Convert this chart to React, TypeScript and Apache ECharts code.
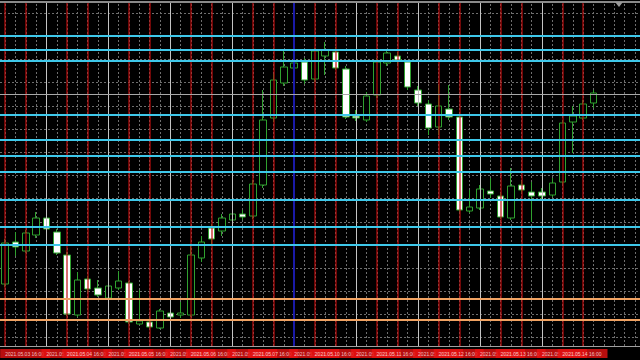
import React, { useEffect, useRef } from 'react';
import * as echarts from 'echarts';

// H4 bar times (last four slots are empty chart-shift space)
const categories: string[] = [
  '2021.05.03 16:00', '2021.05.03 20:00',
  '2021.05.04 00:00', '2021.05.04 04:00', '2021.05.04 08:00', '2021.05.04 12:00', '2021.05.04 16:00', '2021.05.04 20:00',
  '2021.05.05 00:00', '2021.05.05 04:00', '2021.05.05 08:00', '2021.05.05 12:00', '2021.05.05 16:00', '2021.05.05 20:00',
  '2021.05.06 00:00', '2021.05.06 04:00', '2021.05.06 08:00', '2021.05.06 12:00', '2021.05.06 16:00', '2021.05.06 20:00',
  '2021.05.07 00:00', '2021.05.07 04:00', '2021.05.07 08:00', '2021.05.07 12:00', '2021.05.07 16:00', '2021.05.07 20:00',
  '2021.05.10 00:00', '2021.05.10 04:00', '2021.05.10 08:00', '2021.05.10 12:00', '2021.05.10 16:00', '2021.05.10 20:00',
  '2021.05.11 00:00', '2021.05.11 04:00', '2021.05.11 08:00', '2021.05.11 12:00', '2021.05.11 16:00', '2021.05.11 20:00',
  '2021.05.12 00:00', '2021.05.12 04:00', '2021.05.12 08:00', '2021.05.12 12:00', '2021.05.12 16:00', '2021.05.12 20:00',
  '2021.05.13 00:00', '2021.05.13 04:00', '2021.05.13 08:00', '2021.05.13 12:00', '2021.05.13 16:00', '2021.05.13 20:00',
  '2021.05.14 00:00', '2021.05.14 04:00', '2021.05.14 08:00', '2021.05.14 12:00', '2021.05.14 16:00', '2021.05.14 20:00',
  '2021.05.17 00:00', '2021.05.17 04:00', '2021.05.17 08:00', '2021.05.17 12:00', '2021.05.17 16:00', '2021.05.17 20:00',
];

// [open, close, low, high]
const ohlc: number[][] = [
  [1.20156, 1.20443, 1.20135, 1.20471],
  [1.20450, 1.20415, 1.20352, 1.20520],
  [1.20387, 1.20513, 1.20373, 1.20534],
  [1.20499, 1.20618, 1.20478, 1.20660],
  [1.20618, 1.20541, 1.20527, 1.20646],
  [1.20520, 1.20373, 1.20359, 1.20541],
  [1.20359, 1.19946, 1.19932, 1.20380],
  [1.19939, 1.20184, 1.19925, 1.20240],
  [1.20191, 1.20121, 1.20100, 1.20212],
  [1.20128, 1.20079, 1.20065, 1.20184],
  [1.20058, 1.20142, 1.20044, 1.20156],
  [1.20128, 1.20177, 1.20114, 1.20247],
  [1.20163, 1.19890, 1.19876, 1.20177],
  [1.19876, 1.19897, 1.19869, 1.20114],
  [1.19890, 1.19855, 1.19848, 1.19918],
  [1.19848, 1.19967, 1.19841, 1.19981],
  [1.19953, 1.19925, 1.19911, 1.19981],
  [1.19939, 1.19953, 1.19918, 1.20030],
  [1.19939, 1.20359, 1.19925, 1.20429],
  [1.20338, 1.20450, 1.20310, 1.20492],
  [1.20548, 1.20471, 1.20429, 1.20576],
  [1.20527, 1.20618, 1.20492, 1.20646],
  [1.20604, 1.20646, 1.20576, 1.20674],
  [1.20646, 1.20625, 1.20604, 1.20674],
  [1.20632, 1.20856, 1.20611, 1.20884],
  [1.20849, 1.21304, 1.20828, 1.21514],
  [1.21318, 1.21584, 1.21290, 1.21626],
  [1.21563, 1.21675, 1.21542, 1.21794],
  [1.21668, 1.21703, 1.21640, 1.21738],
  [1.21710, 1.21584, 1.21556, 1.21738],
  [1.21591, 1.21787, 1.21570, 1.21808],
  [1.21752, 1.21794, 1.21619, 1.21850],
  [1.21780, 1.21668, 1.21654, 1.21815],
  [1.21661, 1.21325, 1.21311, 1.21682],
  [1.21332, 1.21318, 1.21297, 1.21374],
  [1.21304, 1.21472, 1.21290, 1.21500],
  [1.21479, 1.21710, 1.21458, 1.21738],
  [1.21703, 1.21773, 1.21682, 1.21794],
  [1.21752, 1.21724, 1.21696, 1.21780],
  [1.21710, 1.21535, 1.21514, 1.21724],
  [1.21514, 1.21423, 1.21402, 1.21542],
  [1.21416, 1.21248, 1.21199, 1.21444],
  [1.21255, 1.21402, 1.21199, 1.21549],
  [1.21381, 1.21325, 1.21304, 1.21549],
  [1.21325, 1.20674, 1.20660, 1.21346],
  [1.20667, 1.20695, 1.20653, 1.20814],
  [1.20688, 1.20821, 1.20674, 1.20849],
  [1.20807, 1.20786, 1.20758, 1.20898],
  [1.20772, 1.20625, 1.20611, 1.20793],
  [1.20618, 1.20842, 1.20604, 1.20968],
  [1.20849, 1.20814, 1.20793, 1.20877],
  [1.20800, 1.20772, 1.20590, 1.20870],
  [1.20800, 1.20772, 1.20751, 1.20828],
  [1.20779, 1.20863, 1.20765, 1.20898],
  [1.20870, 1.21283, 1.20856, 1.21304],
  [1.21290, 1.21332, 1.21073, 1.21402],
  [1.21318, 1.21416, 1.21304, 1.21444],
  [1.21423, 1.21493, 1.21388, 1.21514],
];

const timeLabels: string[] = [
  '2021.05.03 16:00', '2021.05.04 08:00', '2021.05.04 16:00', '2021.05.05 08:00', '2021.05.05 16:00',
  '2021.05.06 08:00', '2021.05.06 16:00', '2021.05.07 08:00', '2021.05.07 16:00', '2021.05.10 08:00',
  '2021.05.10 16:00', '2021.05.11 08:00', '2021.05.11 16:00', '2021.05.12 08:00', '2021.05.12 16:00',
  '2021.05.13 08:00', '2021.05.13 16:00', '2021.05.14 08:00', '2021.05.14 16:00',
];

const redLineTimes: string[] = [
  '2021.05.03 16:00', '2021.05.04 00:00', '2021.05.04 16:00', '2021.05.05 00:00', '2021.05.05 16:00',
  '2021.05.06 00:00', '2021.05.06 16:00', '2021.05.07 00:00', '2021.05.07 16:00', '2021.05.10 00:00',
  '2021.05.10 16:00', '2021.05.11 00:00', '2021.05.11 16:00', '2021.05.12 00:00', '2021.05.12 16:00',
  '2021.05.13 00:00', '2021.05.13 16:00', '2021.05.14 00:00', '2021.05.14 16:00', '2021.05.17 00:00',
];
const silverLineTimes: string[] = [
  '2021.05.04 08:00', '2021.05.05 08:00', '2021.05.06 08:00', '2021.05.07 08:00',
  '2021.05.11 08:00', '2021.05.12 08:00', '2021.05.13 08:00', '2021.05.14 08:00',
];
const blueLineTimes: string[] = ['2021.05.10 08:00'];

const cyanLevels: number[] = [1.21892, 1.21794, 1.21717, 1.21339, 1.21164, 1.21052, 1.20940, 1.20744, 1.20555, 1.20429];
const orangeLevels: number[] = [1.20051, 1.19904];
const silverLevels: number[] = [1.21486];
const gridLevels: number[] = [
  1.22053, 1.21891, 1.21728, 1.21566, 1.21403, 1.21241, 1.21079, 1.20916,
  1.20754, 1.20591, 1.20429, 1.20267, 1.20104, 1.19942, 1.19780,
];

const Y_MIN = 1.19722;
const Y_MAX = 1.2213;

const DOT = { color: '#6e6e6e', width: 1, type: [2, 2] as number[] };

const buildOption = () => {
  const gridMarks: any[] = [
    ...gridLevels.map((v) => ({ yAxis: v, lineStyle: DOT })),
    ...categories.map((c) => ({ xAxis: c, lineStyle: DOT })),
  ];
  const colourMarks: any[] = [
    ...redLineTimes.map((c) => ({ xAxis: c, lineStyle: { color: 'rgba(190,14,14,0.6)', width: 2, type: 'solid' } })),
    ...silverLineTimes.map((c) => ({ xAxis: c, lineStyle: { color: '#c4c4c4', width: 1, type: 'solid' } })),
    ...blueLineTimes.map((c) => ({ xAxis: c, lineStyle: { color: '#1a1aa8', width: 2, type: 'solid' } })),
    ...silverLevels.map((v) => ({ yAxis: v, lineStyle: { color: '#a8a8a8', width: 1, type: 'solid' } })),
    { yAxis: Y_MAX, lineStyle: { color: '#8a8a8a', width: 2, type: 'solid' } },
    ...cyanLevels.map((v) => ({ yAxis: v, lineStyle: { color: '#3ec8ea', width: 2, type: 'solid' } })),
    ...orangeLevels.map((v) => ({ yAxis: v, lineStyle: { color: '#f0a262', width: 2, type: 'solid' } })),
  ];
  const markerLine = (z: number, data: any[]) => ({
    z,
    silent: true,
    animation: false,
    precision: 6,
    symbol: ['none', 'none'],
    label: { show: false },
    emphasis: { disabled: true },
    data,
  });
  return {
    animation: false,
    backgroundColor: '#000000',
    grid: { left: 0, right: -2, top: 2, bottom: 14, containLabel: false },
    xAxis: {
      type: 'category',
      data: categories,
      boundaryGap: true,
      axisLine: { show: true, lineStyle: { color: '#a0a0a0', width: 1 } },
      axisTick: { show: false },
      axisLabel: { show: false },
      splitLine: { show: false },
    },
    yAxis: {
      type: 'value',
      min: Y_MIN,
      max: Y_MAX,
      show: false,
      splitLine: { show: false },
    },
    series: [
      {
        type: 'line',
        data: [],
        z: 1,
        silent: true,
        markLine: markerLine(1, gridMarks),
      },
      {
        type: 'candlestick',
        data: ohlc,
        barWidth: 7,
        z: 2,
        clip: false,
        silent: true,
        itemStyle: {
          color: '#000000',
          color0: '#ffffff',
          borderColor: '#2fa12f',
          borderColor0: '#2fa12f',
          borderWidth: 1,
        },
        markLine: markerLine(5, colourMarks),
      },
      {
        // time labels drawn along the bottom edge, each on its own bar
        type: 'scatter',
        data: timeLabels.map((t) => [t, Y_MIN]),
        symbol: 'rect',
        symbolSize: 1,
        itemStyle: { color: 'rgba(0,0,0,0)' },
        clip: false,
        silent: true,
        z: 6,
        label: {
          show: true,
          formatter: (p: any) => p.value[0],
          position: [-4.5, 3.5],
          align: 'left',
          verticalAlign: 'top',
          color: '#ffe8e8',
          fontSize: 5,
          fontFamily: 'Liberation Sans',
          lineHeight: 6,
          backgroundColor: '#e61212',
          padding: [2, 6, 1, 5],
        },
        labelLayout: { hideOverlap: false },
      },
    ],
    graphic: [
      {
        type: 'polygon',
        shape: { points: [[615, 2], [623, 2], [619, 7]] },
        style: { fill: '#9a9a9a' },
        z: 10,
      },
    ],
  };
};

export default function App() {
  const ref = useRef<HTMLDivElement>(null);
  useEffect(() => {
    document.body.style.margin = '0';
    const chart = echarts.init(ref.current as HTMLDivElement, null, { renderer: 'svg' });
    chart.setOption(buildOption() as any);
    return () => chart.dispose();
  }, []);
  return <div ref={ref} style={{ width: 640, height: 360 }} />;
}
